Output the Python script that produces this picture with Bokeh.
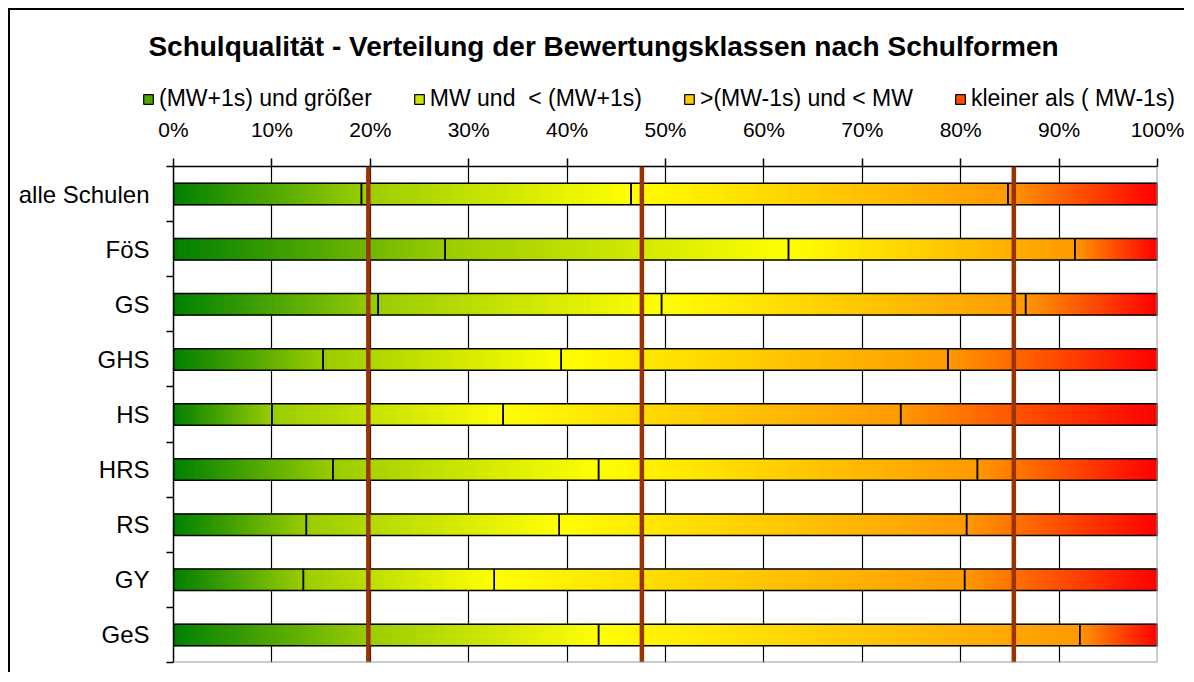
from bokeh.plotting import figure
from bokeh.models import Legend, LegendItem, Label, Span, FixedTicker, Range1d
from bokeh.embed import file_html
from bokeh.resources import INLINE

# ---------------- data ----------------
title_text = "Schulqualität - Verteilung der Bewertungsklassen nach Schulformen"
categories = ["alle Schulen", "FöS", "GS", "GHS", "HS", "HRS", "RS", "GY", "GeS"]
class_labels = ["(MW+1s) und größer", "MW und  < (MW+1s)", ">(MW-1s) und < MW", "kleiner als ( MW-1s)"]
# percentage share of each rating class per school type
top_class = [19.1, 27.6, 20.8, 15.2, 10.0, 16.2, 13.5, 13.2, 19.8]
upper_mid = [27.4, 34.9, 28.8, 24.2, 23.5, 27.0, 25.7, 19.4, 23.4]
lower_mid = [38.3, 29.1, 37.0, 39.3, 40.4, 38.5, 41.4, 47.8, 48.9]
bottom_class = [15.2, 8.4, 13.4, 21.3, 26.1, 18.3, 19.4, 19.6, 7.9]
reference_lines = [19.8, 47.6, 85.4]
tick_values = [0, 10, 20, 30, 40, 50, 60, 70, 80, 90, 100]
tick_labels = ["0%", "10%", "20%", "30%", "40%", "50%", "60%", "70%", "80%", "90%", "100%"]

# ---------------- style ----------------
FONT = "Liberation Sans"
grad = [("#008000", "#99CC00"), ("#99CC00", "#FFFF00"), ("#FFFF00", "#FF9900"), ("#FF9900", "#FF0000")]
BAR_H = 0.39
N_SLICES = 48
W = 1176
TOP_H = 104
MAIN_H = 560


def hex2rgb(h):
    h = h.lstrip("#")
    return tuple(int(h[i:i + 2], 16) for i in (0, 2, 4))


def lerp(c0, c1, t):
    a, b = hex2rgb(c0), hex2rgb(c1)
    return "#%02x%02x%02x" % tuple(int(round(a[k] + (b[k] - a[k]) * t)) for k in range(3))


n = len(categories)
ypos = [n - i - 0.5 for i in range(n)]
series = [top_class, upper_mid, lower_mid, bottom_class]

# ---------------- header figure: title + legend ----------------
head = figure(width=W, height=TOP_H, x_range=Range1d(0, 1), y_range=Range1d(0, 1),
              x_axis_type=None, y_axis_type=None, output_backend="svg", toolbar_location=None,
              min_border=0)
head.grid.visible = False
head.outline_line_color = None
head.styles = {"margin-left": "8px", "margin-top": "8px",
               "border-left": "2px solid black", "border-top": "2px solid black"}
head.add_layout(Label(x=593, y=68, x_units="screen", y_units="screen", text=title_text,
                      text_font=FONT, text_font_size="28px", text_font_style="bold",
                      text_align="center", text_baseline="middle", text_color="black"))
items = []
for j, lab in enumerate(class_labels):
    # one off-range dummy bar per class so that the legend swatch gets its colour
    r = head.hbar(y=[-5], left=[0], right=[1], height=0.1,
                  fill_color=lerp(grad[j][0], grad[j][1], 0.5),
                  line_color="black", line_width=1.2)
    items.append(LegendItem(label=lab, renderers=[r]))
legend = Legend(items=items, orientation="horizontal", location=(132, 2), spacing=41,
                padding=0, margin=0, label_standoff=5, glyph_width=12, glyph_height=12,
                label_text_font_size="23px", label_text_font=FONT, label_text_color="black",
                border_line_color=None, background_fill_alpha=0)
head.add_layout(legend)

# ---------------- main figure ----------------
p = figure(width=W, height=MAIN_H, x_range=Range1d(0, 100), y_range=Range1d(0, n),
           x_axis_location="above", output_backend="svg", toolbar_location=None,
           min_border_left=163, min_border_right=29, min_border_top=54, min_border_bottom=10)
p.outline_line_color = None
p.background_fill_color = "white"
p.border_fill_color = "white"
p.styles = {"margin-left": "8px", "border-left": "2px solid black"}

# gradient slices
sl = dict(y=[], left=[], right=[], color=[])
seg = dict(y=[], left=[], right=[])
for i in range(n):
    start = 0.0
    for j, s in enumerate(series):
        w = s[i]
        end = start + w
        for k in range(N_SLICES):
            l = start + w * k / N_SLICES
            r = start + w * (k + 1) / N_SLICES
            sl["y"].append(ypos[i]); sl["left"].append(l); sl["right"].append(r)
            sl["color"].append(lerp(grad[j][0], grad[j][1], (k + 0.5) / N_SLICES))
        seg["y"].append(ypos[i]); seg["left"].append(start); seg["right"].append(end)
        start = end

p.hbar(y="y", left="left", right="right", height=BAR_H, fill_color="color",
       line_color="color", line_width=1.0, source=sl)
p.hbar(y="y", left="left", right="right", height=BAR_H, fill_color=None,
       line_color="black", line_width=1.5, source=seg)

# reference lines
for v in reference_lines:
    p.add_layout(Span(location=v, dimension="height", line_color="#993300", line_width=4.5))
p.add_layout(Span(location=100, dimension="height", line_color="#999999", line_width=2))
p.add_layout(Span(location=0, dimension="width", line_color="#999999", line_width=2))

# grid
p.ygrid.visible = False
p.xgrid.ticker = FixedTicker(ticks=tick_values[1:-1])
p.xgrid.grid_line_color = "black"
p.xgrid.grid_line_width = 1.2

# x axis (top)
xa = p.xaxis[0]
xa.ticker = FixedTicker(ticks=tick_values, minor_ticks=[])
xa.major_label_overrides = {v: t for v, t in zip(tick_values, tick_labels)}
xa.major_tick_in = 0
xa.major_tick_out = 8
xa.major_tick_line_color = "black"
xa.major_tick_line_width = 1.5
xa.axis_line_color = "black"
xa.axis_line_width = 1.5
xa.major_label_text_font = FONT
xa.major_label_text_font_size = "21px"
xa.major_label_text_color = "black"
xa.major_label_standoff = 18

# y axis (left)
ya = p.yaxis[0]
ya.ticker = FixedTicker(ticks=ypos, minor_ticks=list(range(n + 1)))
ya.major_label_overrides = {y: c for y, c in zip(ypos, categories)}
ya.major_tick_in = 0
ya.major_tick_out = 0
ya.minor_tick_in = 0
ya.minor_tick_out = 7
ya.minor_tick_line_color = "black"
ya.minor_tick_line_width = 1.5
ya.axis_line_color = "black"
ya.axis_line_width = 1.5
ya.major_label_text_font = FONT
ya.major_label_text_font_size = "24px"
ya.major_label_text_color = "black"
ya.major_label_standoff = 17

open("out.html", "w").write(file_html([head, p], INLINE))
